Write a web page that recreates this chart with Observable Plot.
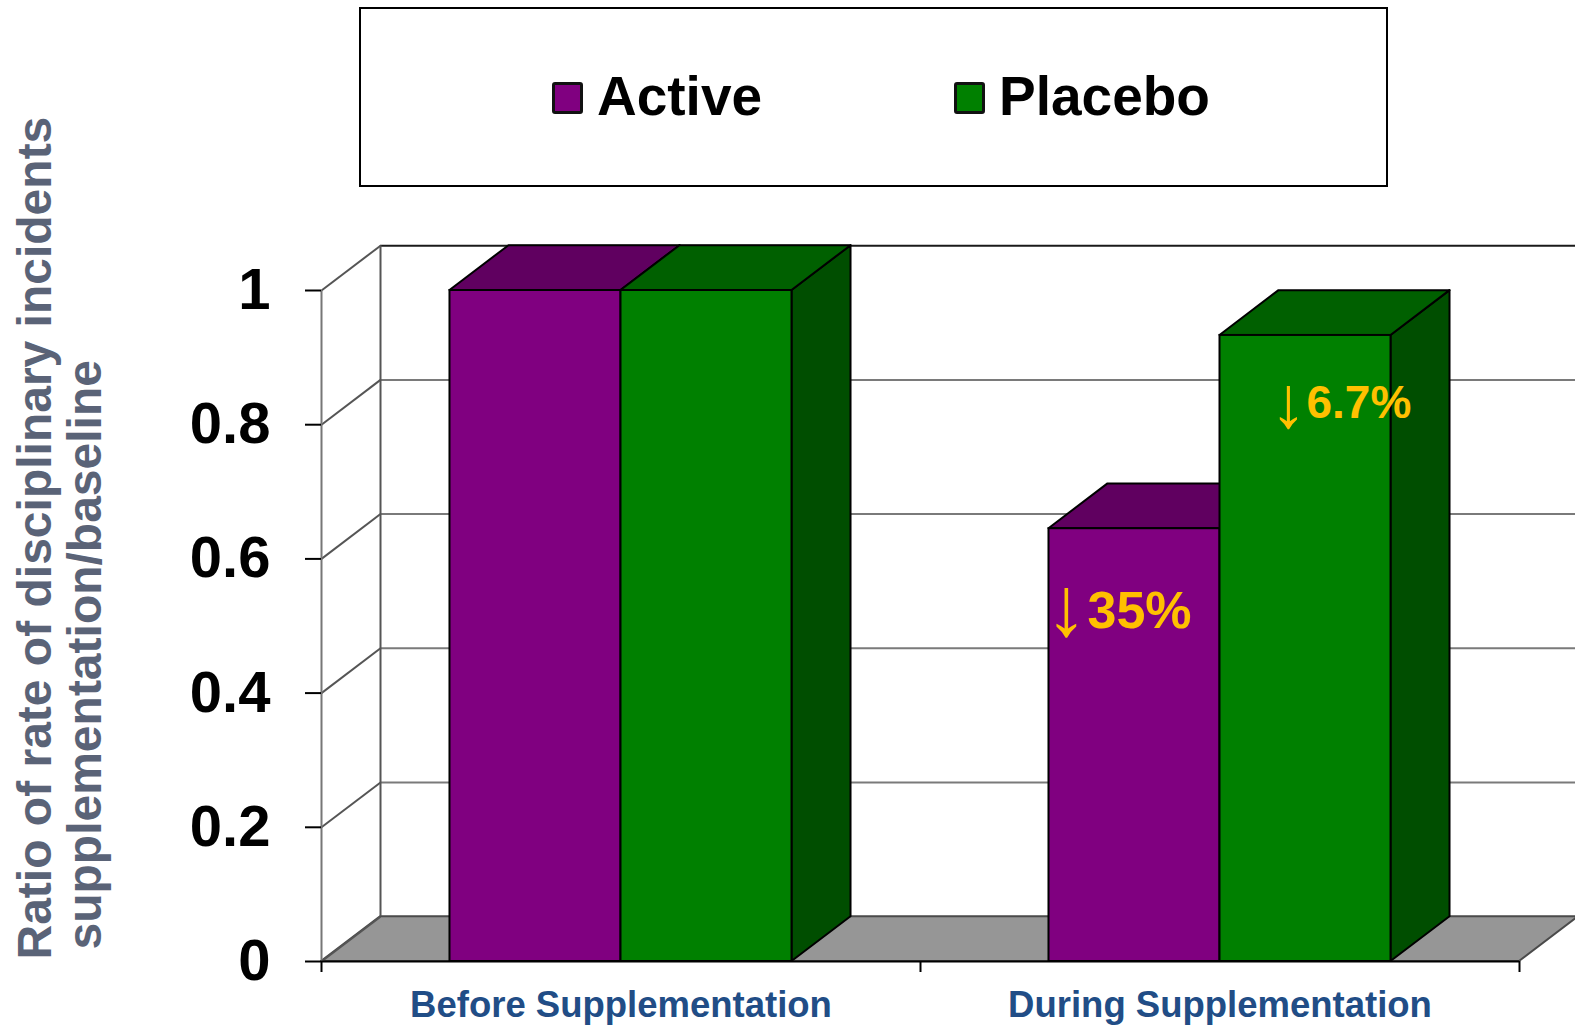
<!DOCTYPE html>
<html>
<head>
<meta charset="utf-8">
<script src="https://cdn.jsdelivr.net/npm/d3@7"></script>
<script src="https://cdn.jsdelivr.net/npm/@observablehq/plot@0.6"></script>
<style>
  html, body { margin: 0; padding: 0; background: #fff; overflow: hidden; }
  #wrap { position: relative; width: 1575px; height: 1027px; }
  #chart svg { display: block; overflow: hidden; }
  #legend { position: absolute; left: 0; top: 0; }
</style>
</head>
<body>
<div id="wrap">
  <div id="chart"></div>
  <svg id="legend" width="1575" height="200"></svg>
</div>
<script>
// ---------------- data ----------------
const groups = ["Before Supplementation", "During Supplementation"];
const series = ["Active", "Placebo"];
const activeValues = [1.0, 0.645];
const placeboValues = [1.0, 0.933];
const yTicks = [0, 0.2, 0.4, 0.6, 0.8, 1];
const yTickLabels = ["0", "0.2", "0.4", "0.6", "0.8", "1"];
const yTitleLines = ["Ratio of rate of disciplinary incidents", "supplementation/baseline"];
const annotations = [
  {group: "During Supplementation", series: "Active", arrow: "\u2193", label: "35%"},
  {group: "During Supplementation", series: "Placebo", arrow: "\u2193", label: "6.7%"}
];

// ---------------- styles ----------------
const FRONT = {Active: "#800080", Placebo: "#008000"};
const TOP = {Active: "#600060", Placebo: "#006000"};
const SIDE = {Active: "#4c004c", Placebo: "#004e00"};
const BW = 0.2855;      // bar width in x units
const DX = 0.0985;      // depth offset (x units)
const DY = 0.0668;      // depth offset (y units)
const annStyle = {
  Active: {arrowDx: -47, arrowDy: 106, arrowSize: 84, dx: -47, dy: 99, fontSize: 52},
  Placebo: {arrowDx: 1, arrowDy: 92, arrowSize: 73, dx: 1, dy: 83, fontSize: 46}
};
const FONT = "'Liberation Sans', Arial, sans-serif";

// ---------------- table ----------------
const valuesBySeries = {Active: activeValues, Placebo: placeboValues};
const bars = [];
groups.forEach((g, gi) => {
  series.forEach((s, si) => {
    const x1 = gi + 0.5 + (si - 1) * BW;
    bars.push({group: g, series: s, key: g + "|" + s, value: valuesBySeries[s][gi], x1, x2: x1 + BW, xc: x1 + BW / 2});
  });
});
const sidePts = bars.flatMap(b => [
  {key: b.key, series: b.series, x: b.x2, y1: 0, y2: b.value},
  {key: b.key, series: b.series, x: b.x2 + DX, y1: DY, y2: b.value + DY}
]);
const topPts = bars.flatMap(b => [
  {key: b.key, series: b.series, y: b.value, x1: b.x1, x2: b.x2},
  {key: b.key, series: b.series, y: b.value + DY, x1: b.x1 + DX, x2: b.x2 + DX}
]);
const floorPts = [
  {y: 0, x1: 0, x2: groups.length},
  {y: DY, x1: DX, x2: groups.length + DX}
];
const barOf = a => bars.find(b => b.group === a.group && b.series === a.series);

const annMarks = annotations.flatMap(a => {
  const st = annStyle[a.series];
  const b = barOf(a);
  const d = [{x: b.xc, y: b.value, arrow: a.arrow, label: a.label}];
  return [
    Plot.text(d, {x: "x", y: "y", text: "arrow", textAnchor: "end", lineAnchor: "bottom",
      dx: st.arrowDx, dy: st.arrowDy, fontSize: st.arrowSize, fontWeight: "normal", fill: "#ffc000", fontFamily: FONT}),
    Plot.text(d, {x: "x", y: "y", text: "label", textAnchor: "start", lineAnchor: "bottom",
      dx: st.dx, dy: st.dy, fontSize: st.fontSize, fontWeight: "bold", fill: "#ffc000", fontFamily: FONT})
  ];
});

const chart = Plot.plot({
  width: 1575,
  height: 1027,
  marginLeft: 321,
  marginRight: 56,
  marginTop: 290,
  marginBottom: 66,
  x: {domain: [0, groups.length]},
  y: {domain: [0, 1]},
  style: {fontFamily: FONT, background: "white", overflow: "hidden"},
  marks: [
    // floor
    Plot.areaX(floorPts, {y: "y", x1: "x1", x2: "x2", fill: "#969696", stroke: "#4a4a4a", strokeWidth: 2}),
    // back wall grid lines
    Plot.ruleY(yTicks.filter(t => t > 0 && t < 1), {y: d => d + DY, x1: DX, x2: groups.length + DX, stroke: "#7a7a7a", strokeWidth: 2}),
    Plot.ruleY([1], {y: d => d + DY, x1: DX, x2: groups.length + DX, stroke: "#1a1a1a", strokeWidth: 2}),
    Plot.ruleX([DX], {y1: DY, y2: 1 + DY, stroke: "#555", strokeWidth: 2}),
    // left wall
    Plot.link(yTicks, {x1: 0, y1: d => d, x2: DX, y2: d => d + DY, stroke: "#555", strokeWidth: 2}),
    Plot.ruleX([0], {y1: 0, y2: 1, stroke: "#777", strokeWidth: 2}),
    // bars: sides, tops, fronts
    Plot.areaY(sidePts, {x: "x", y1: "y1", y2: "y2", z: "key", fill: d => SIDE[d.series], stroke: "black", strokeWidth: 2}),
    Plot.areaX(topPts, {y: "y", x1: "x1", x2: "x2", z: "key", fill: d => TOP[d.series], stroke: "black", strokeWidth: 2}),
    Plot.rect(bars, {x1: "x1", x2: "x2", y1: 0, y2: "value", fill: d => FRONT[d.series], stroke: "black", strokeWidth: 2}),
    // floor front edge
    Plot.ruleY([0], {x1: 0, x2: groups.length, stroke: "black", strokeWidth: 2}),
    // axes
    Plot.axisY({ticks: yTicks, tickFormat: d => yTickLabels[yTicks.indexOf(d)], tickSize: 16, tickPadding: 35,
      fontSize: 58, fontWeight: "bold", strokeWidth: 2, label: null, color: "black"}),
    Plot.axisX({ticks: d3.range(groups.length + 1), tickFormat: () => "", tickSize: 11, strokeWidth: 2, label: null}),
    // category labels
    Plot.text(groups, {x: (d, i) => i + 0.5, y: 0, dy: 55, lineAnchor: "bottom", fontSize: 36.5, fontWeight: "bold",
      fill: "#214d86", fontFamily: FONT}),
    // y title
    Plot.text([yTitleLines[0]], {frameAnchor: "bottom-left", dx: -271, dy: -2, rotate: -90, textAnchor: "start",
      lineAnchor: "bottom", fontSize: 48, fontWeight: "bold", fill: "#5a6377", fontFamily: FONT}),
    Plot.text([yTitleLines[1]], {frameAnchor: "bottom-left", dx: -221, dy: -12, rotate: -90, textAnchor: "start",
      lineAnchor: "bottom", fontSize: 48, fontWeight: "bold", fill: "#5a6377", fontFamily: FONT}),
    // annotations
    ...annMarks
  ]
});
document.getElementById("chart").appendChild(chart);

// ---------------- legend ----------------
const leg = d3.select("#legend");
leg.append("rect").attr("x", 360).attr("y", 8).attr("width", 1027).attr("height", 178)
  .attr("fill", "white").attr("stroke", "black").attr("stroke-width", 2);
const legendX = [552, 954];
series.forEach((s, i) => {
  leg.append("rect").attr("x", legendX[i] + 1.5).attr("y", 83.5).attr("width", 28).attr("height", 29)
    .attr("fill", FRONT[s]).attr("stroke", "#111").attr("stroke-width", 3).attr("rx", 1.5);
  leg.append("text").attr("x", legendX[i] + 45).attr("y", 115).text(s)
    .attr("font-family", FONT).attr("font-weight", "bold").attr("font-size", 55).attr("fill", "black");
});
</script>
</body>
</html>
